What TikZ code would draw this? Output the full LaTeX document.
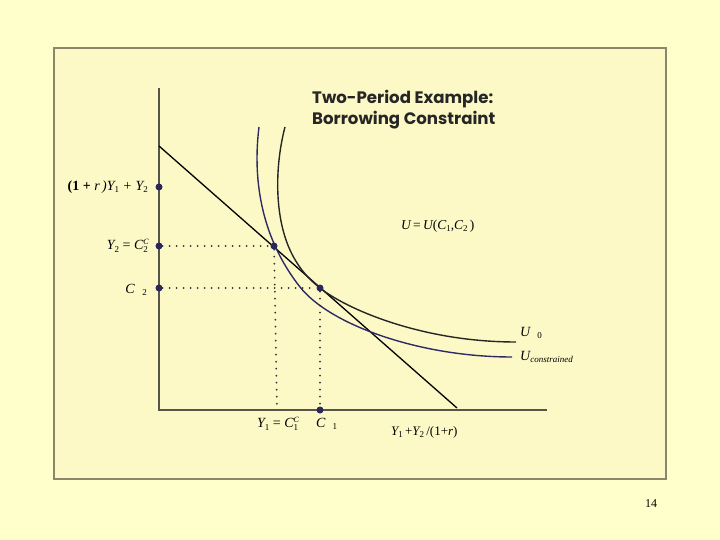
\documentclass[tikz,border=0pt]{standalone}
\usepackage{fontspec}
\setmainfont{Liberation Serif}
\newfontfamily\titlefont{Poppins}
\usetikzlibrary{calc}
\definecolor{pagebg}{HTML}{FFFFCC}
\definecolor{innerbg}{HTML}{FCF9C6}
\definecolor{framec}{HTML}{8A876A}
\definecolor{axisc}{HTML}{55554A}
\definecolor{navy}{HTML}{2E2A66}
\definecolor{dotc}{HTML}{2A285A}
\newcommand\lo[1]{\raisebox{-0.4ex}{\fontsize{9}{9}\selectfont\upshape #1}}
\newcommand\loit[1]{\raisebox{-0.4ex}{\fontsize{9}{9}\selectfont\itshape #1}}
\newcommand\hi[1]{\raisebox{0.75ex}{\fontsize{8}{8}\selectfont #1}}
\newcommand\losup[2]{\rlap{\lo{#1}}\hi{#2}}
\tikzset{
  dotpt/.style={circle,fill=dotc,inner sep=0pt,minimum size=7pt},
  lbl/.style={inner sep=0pt,font=\fontsize{14}{14}\selectfont\itshape},
  guide/.style={dash pattern=on 0pt off 7pt,line width=2pt,line cap=round,black!80},
  axisl/.style={axisc,line width=1.8pt},
}
\begin{document}
\begin{tikzpicture}[x=1pt,y=-1pt]
\useasboundingbox (0,0) rectangle (720,540);
\fill[pagebg] (0,0) rectangle (720,540);
\draw[framec,line width=1.2pt,fill=innerbg] (54,48) rectangle (666,479);
% axes
\coordinate (O) at (159,410);
\coordinate (ytop) at (159,88);
\coordinate (xend) at (547,410);
\draw[axisl] (ytop) -- (O) -- (xend);
% budget line
\coordinate (b1) at (159,146);
\coordinate (b2) at (457,408);
\draw[black,line width=1.3pt] (b1) -- (b2);
% indifference curves
\draw[navy,line width=1.4pt] (259,127) .. controls (253,175) and (259,235) .. (300,287)
   .. controls (330,325) and (420,357) .. (512,357);
\draw[black!85,line width=1.4pt] (285,127) .. controls (275,165) and (274,215) .. (290,250)
   .. controls (297,265) and (305,276) .. (320,288)
   .. controls (345,308) and (420,342) .. (516,342);
% dots
\node[dotpt] (w) at (159,187) {};
\node[dotpt] (y2) at (159,246) {};
\node[dotpt] (c2) at (159,288) {};
\node[dotpt] (A) at (274,246) {};
\node[dotpt] (B) at (320,288) {};
\node[dotpt] (c1) at (320,410) {};
\coordinate (y1) at (277,410);
% guides
\draw[guide] (y2) -- (A);
\draw[guide] (A) -- (y1);
\draw[guide] (c2) -- (B);
\draw[guide] (B) -- (c1);
% labels
\node[lbl,anchor=east] (lw) at (148,187) {\textbf{\upshape(1 + }\textit{r}\,)\textit{Y}\lo{1} + \textit{Y}\lo{2}};
\node[lbl,anchor=east] (ly2) at (149,246) {\textit{Y}\lo{2} {\upshape =} \textit{C}\losup{2}{\textit{C}}};
\node[lbl,anchor=east] (lc2) at (147,290) {\textit{C}\hspace{0.55em}\lo{2}};
\node[lbl] (ly1) at (278,424) {\textit{Y}\lo{1} {\upshape =} \textit{C}\losup{1}{\textit{C}}};
\node[lbl,anchor=west] (lc1) at (316,424) {\textit{C}\hspace{0.5em}\lo{1}};
\node[lbl,anchor=west,font=\fontsize{13}{13}\selectfont\itshape] (lx) at (391,432) {\textit{Y}\lo{1}\,{\upshape+}\textit{Y}\lo{2}\,{\upshape/(1+}\textit{r}{\upshape)}};
\node[lbl,anchor=west,font=\fontsize{13.5}{13.5}\selectfont\itshape] (lu) at (401,226) {\textit{U}\,{\upshape=}\,\textit{U}{\upshape(}\textit{C}\lo{1}{\upshape,}\textit{C}\lo{2}\,{\upshape)}};
\node[lbl,anchor=west] (lu0) at (520,333) {\textit{U}\hspace{0.5em}\lo{0}};
\node[lbl,anchor=west] (luc) at (520,357) {\textit{U}\loit{constrained}};
\node[font=\titlefont\bfseries\fontsize{16.6}{21}\selectfont,color=black!85,align=left,anchor=north west,inner sep=0pt] (title) at (312,90) {Two-Period Example:\\Borrowing Constraint};
\node[font=\fontsize{12}{12}\selectfont] (pg) at (651,504) {14};
\end{tikzpicture}
\end{document}
